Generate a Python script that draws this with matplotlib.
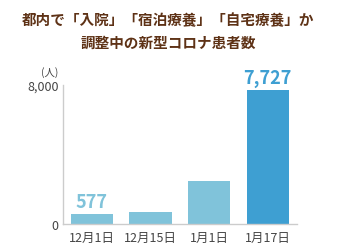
import matplotlib
matplotlib.use("Agg")
import matplotlib.pyplot as plt

plt.rcParams['font.family'] = ['Noto Sans CJK JP', 'DejaVu Sans']

dates = ["12月1日", "12月15日", "1月1日", "1月17日"]
patients = [577, 700, 2450, 7727]
labels = {0: "577", 3: "7,727"}
bar_colors = ["#80c3da", "#80c3da", "#80c3da", "#3e9fd2"]
label_colors = {0: "#80c3da", 3: "#3e9fd2"}

fig = plt.figure(figsize=(3.37, 2.53), dpi=100)
ax = fig.add_axes([0.186, 0.111, 0.695, 0.549])

x = range(len(dates))
ax.bar(x, patients, width=0.72, color=bar_colors)
for i, txt in labels.items():
    ax.text(i, patients[i] + 150, txt, ha="center", va="bottom",
            fontsize=13, fontweight="bold", color=label_colors[i])

ax.set_xlim(-0.5, 3.5)
ax.set_ylim(0, 8000)
ax.set_xticks(list(x))
ax.set_xticklabels(dates, fontsize=9, color="#444444")
ax.set_yticks([0, 8000])
ax.set_yticklabels(["0", "8,000"], fontsize=9, color="#444444")
ax.tick_params(length=0, pad=3)
ax.tick_params(axis="x", pad=5)
for s in ["top", "right"]:
    ax.spines[s].set_visible(False)
for s in ["left", "bottom"]:
    ax.spines[s].set_color("#cccccc")
    ax.spines[s].set_linewidth(1)

fig.text(0.148, 0.715, "(人)", fontsize=7.5, color="#444444", ha="center", va="center")

title_color = "#5e3216"
fig.text(0.5, 0.92, "都内で「入院」「宿泊療養」「自宅療養」か", fontsize=10.5,
         fontweight="bold", color=title_color, ha="center", va="center")
fig.text(0.5, 0.83, "調整中の新型コロナ患者数", fontsize=10.5,
         fontweight="bold", color=title_color, ha="center", va="center")

fig.savefig("out.png", dpi=100)
